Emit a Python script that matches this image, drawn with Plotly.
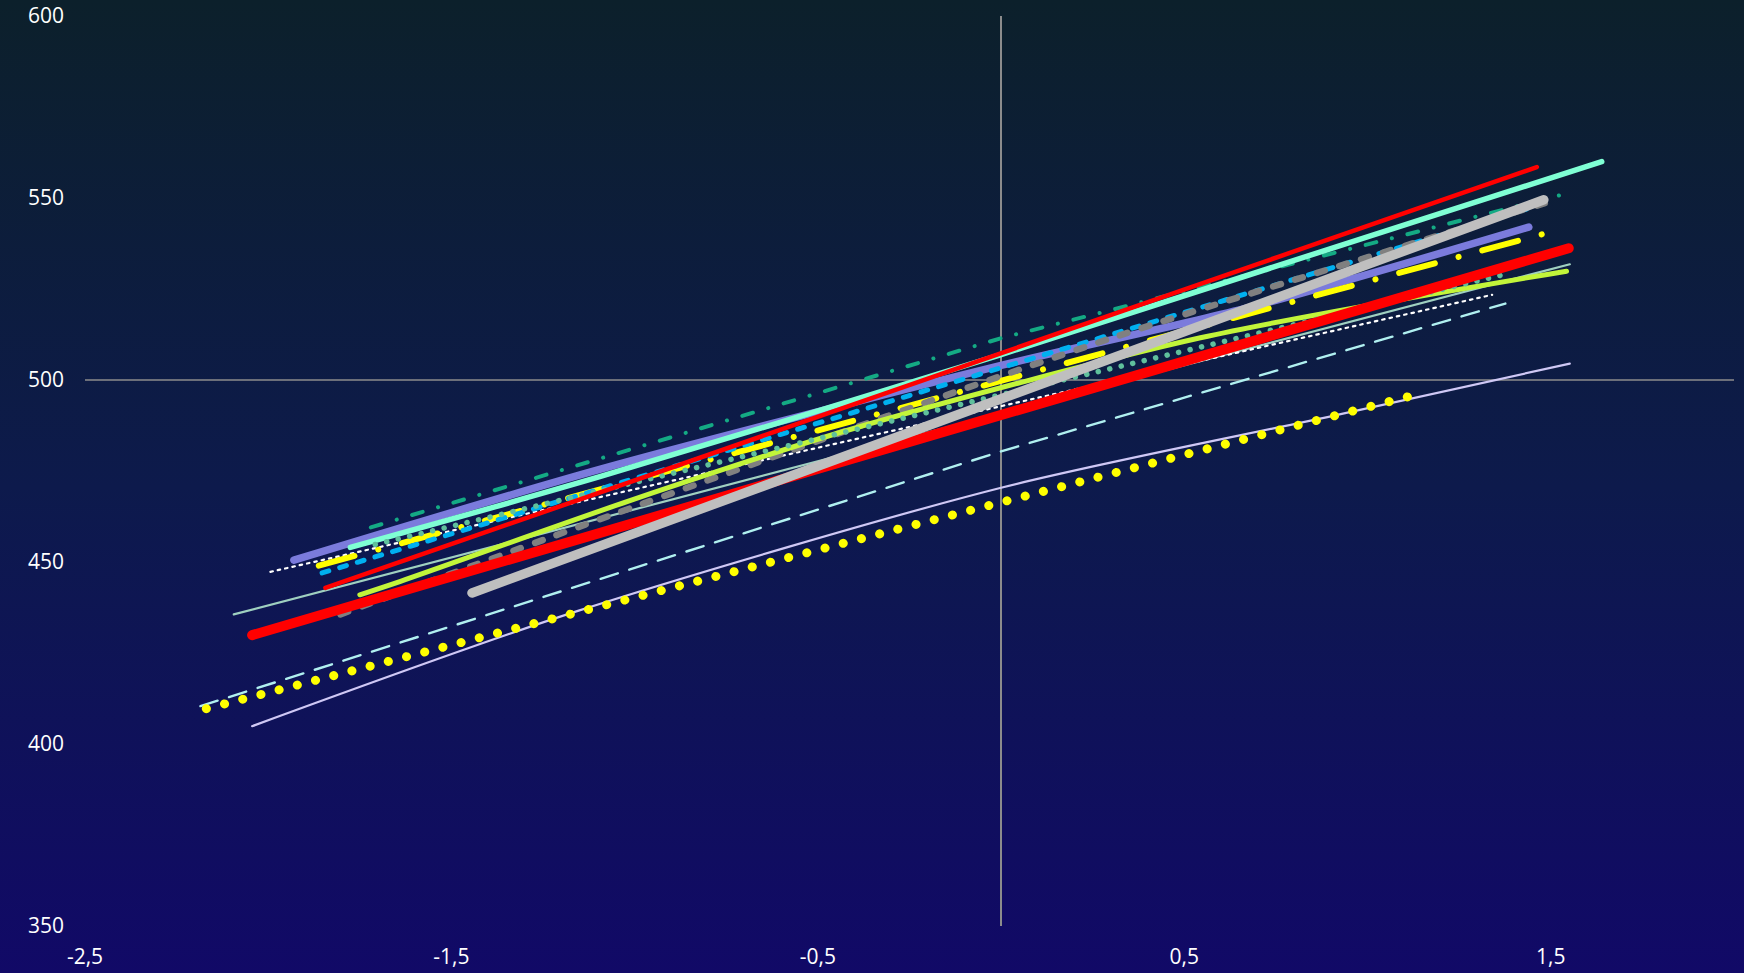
import base64
import plotly.graph_objects as go

# ---------------- data ----------------
x_tick_vals = [-2.5, -1.5, -0.5, 0.5, 1.5]
x_tick_text = ["-2,5", "-1,5", "-0,5", "0,5", "1,5"]
y_tick_vals = [350, 400, 450, 500, 550, 600]
y_tick_text = ["350", "400", "450", "500", "550", "600"]
axis_cross_y = 500

pale_green_x = [-2.094, 1.552]
pale_green_y = [435.6, 531.8]

lavender_x = [-2.044, -1.157, 0.0, 0.908, 1.552]
lavender_y = [404.9, 436.5, 470.4, 490.2, 504.5]

cyan_dash_x = [-2.185, 0.0, 1.376]
cyan_dash_y = [410.4, 480.4, 521.0]

white_dot_x = [-1.994, 1.340]
white_dot_y = [447.3, 523.4]

teal_dashdot_x = [-1.72, 0.0, 1.530]
teal_dashdot_y = [459.5, 511.5, 550.9]

purple_x = [-1.930, -1.093, 0.0, 0.680, 1.440]
purple_y = [450.5, 475.5, 504.0, 520.0, 542.0]

aquamarine_x = [-1.776, -1.093, 0.0, 1.639]
aquamarine_y = [454.0, 473.5, 507.0, 560.0]

yellow_dashdot_x = [-1.862, 1.504]
yellow_dashdot_y = [449.0, 540.8]

blue_dash_x = [-1.853, 1.471]
blue_dash_y = [447.0, 548.1]

gray_dash_x = [-1.803, -0.975, 0.316, 1.488]
gray_dash_y = [435.6, 466.1, 512.0, 548.7]

lime_x = [-1.75, -1.639, -1.003, -0.412, 0.544, 1.543]
lime_y = [441.0, 444.7, 467.2, 486.4, 511.6, 529.9]

seagreen_dot_x = [-1.708, 1.390]
seagreen_dot_y = [454.8, 529.4]

red_thin_x = [-1.844, 1.462]
red_thin_y = [442.9, 558.5]

red_thick_x = [-2.044, 1.549]
red_thick_y = [429.9, 536.2]

gray_thick_x = [-1.444, 1.481]
gray_thick_y = [441.5, 549.5]

yellow_dot_x = [-2.169, 1.114]
yellow_dot_y = [409.7, 495.5]

# ---------------- styling ----------------
W, H = 1744, 973
ML, MR, MT, MB = 85, 10, 16, 47
FONT = "Open Sans"

series = [
    (pale_green_x, pale_green_y, "#9fd0c0", 2.2, "solid", "linear"),
    (lavender_x, lavender_y, "#cfc8f5", 2.2, "solid", "spline"),
    (cyan_dash_x, cyan_dash_y, "#b0f0f0", 2.4, "18px,12px", "linear"),
    (white_dot_x, white_dot_y, "#ffffff", 2.2, "2.5px,5px", "linear"),
    (teal_dashdot_x, teal_dashdot_y, "#14aa84", 4, "11px,16px,0.1px,16px", "linear"),
    (purple_x, purple_y, "#7b7bdc", 7.5, "solid", "spline"),
    (aquamarine_x, aquamarine_y, "#7fffd4", 5.5, "solid", "spline"),
    (yellow_dashdot_x, yellow_dashdot_y, "#ffff00", 6, "37px,24.5px,0.1px,24.5px", "linear"),
    (blue_dash_x, blue_dash_y, "#00b0f0", 5, "7px,11.4px", "linear"),
    (gray_dash_x, gray_dash_y, "#808080", 6.5, "8px,15px", "spline"),
    (lime_x, lime_y, "#c2f53a", 5, "solid", "spline"),
    (seagreen_dot_x, seagreen_dot_y, "#5fc09c", 5.5, "0.1px,11.7px", "linear"),
    (red_thin_x, red_thin_y, "#ff0000", 4.5, "solid", "linear"),
    (red_thick_x, red_thick_y, "#ff0000", 10, "solid", "linear"),
    (gray_thick_x, gray_thick_y, "#bfbfbf", 9.5, "solid", "linear"),
    (yellow_dot_x, yellow_dot_y, "#ffff00", 9, "0.1px,18.7px", "linear"),
]

fig = go.Figure()
for xs, ys, color, width, dash, shape in series:
    fig.add_trace(go.Scatter(
        x=xs, y=ys, mode="lines",
        line=dict(color=color, width=width, dash=dash, shape=shape, smoothing=0.8),
        hoverinfo="skip", showlegend=False,
    ))

# background gradient (whole page)
svg = ('<svg xmlns="http://www.w3.org/2000/svg" width="100" height="100" '
       'preserveAspectRatio="none"><defs><linearGradient id="g" x1="0" y1="0" x2="0" y2="1">'
       '<stop offset="0" stop-color="#0c202b"/><stop offset="0.5" stop-color="#0d1a4c"/>'
       '<stop offset="1" stop-color="#110967"/></linearGradient></defs>'
       '<rect width="100" height="100" fill="url(#g)"/></svg>')
uri = "data:image/svg+xml;base64," + base64.b64encode(svg.encode()).decode()
pw, ph = W - ML - MR, H - MT - MB
fig.add_layout_image(dict(
    source=uri, xref="paper", yref="paper",
    x=-ML / pw, y=1 + MT / ph, sizex=W / pw, sizey=H / ph,
    xanchor="left", yanchor="top", sizing="stretch", layer="below",
))

fig.add_shape(type="line", xref="paper", x0=0, x1=1, yref="y",
              y0=axis_cross_y, y1=axis_cross_y,
              line=dict(color="#8c8c8c", width=1.6), layer="below")

fig.update_layout(
    width=W, height=H,
    margin=dict(l=ML, r=MR, t=MT, b=MB, pad=0, autoexpand=False),
    paper_bgcolor="#0d1a4c", plot_bgcolor="rgba(0,0,0,0)",
    font=dict(family=FONT, size=21, color="#ffffff"),
    showlegend=False,
)
fig.update_xaxes(
    range=[-2.5, 2.0], tickvals=x_tick_vals, ticktext=x_tick_text,
    showgrid=False, zeroline=True, zerolinecolor="#8c8c8c", zerolinewidth=1.6,
    showline=False, ticks="", ticklabelstandoff=16, automargin=False,
    tickfont=dict(family=FONT, size=21, color="#ffffff"),
)
fig.update_yaxes(
    range=[350, 600], tickvals=y_tick_vals, ticktext=y_tick_text,
    showgrid=False, zeroline=False, showline=False, ticks="",
    ticklabelstandoff=20, automargin=False,
    tickfont=dict(family=FONT, size=21, color="#ffffff"),
)

post = ("var s=document.createElement('style');"
        "s.textContent='html,body{margin:0;padding:0;overflow:hidden;background:#0d1a4c;}"
        ".scatterlayer .js-line{stroke-linecap:round;stroke-linejoin:round;}';"
        "document.head.appendChild(s);")
fig.write_html("out.html", post_script=post, config={"displayModeBar": False})
